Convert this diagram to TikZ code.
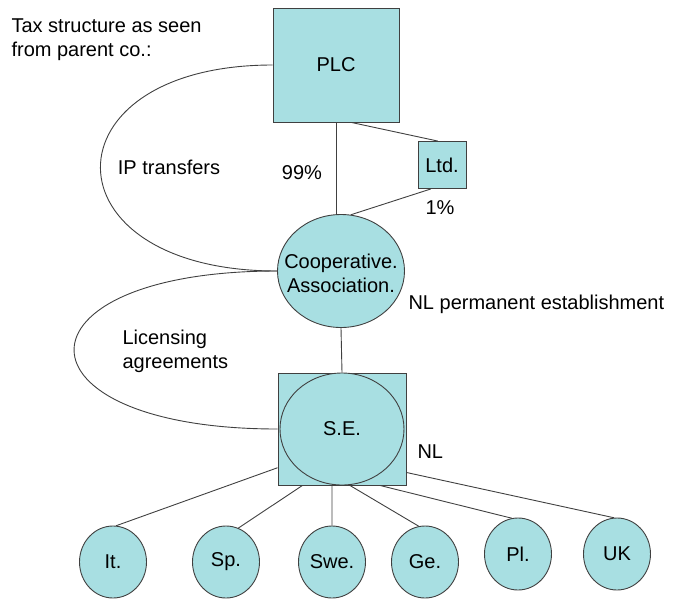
\documentclass[tikz,border=0pt]{standalone}
\usepackage{fontspec}
\setmainfont{Liberation Sans}
\usetikzlibrary{shapes.geometric}
\definecolor{boxfill}{RGB}{168,223,226}
\tikzset{
	entity/.style={draw=black!75, fill=boxfill, line width=0.9pt, inner sep=0pt},
	firm/.style={entity, rectangle},
	branch/.style={entity, ellipse, minimum width=67pt, minimum height=72pt},
	link/.style={draw=black!75, line width=0.9pt}
}

\begin{document}
\begin{tikzpicture}[x=1pt, y=-1pt, font=\fontsize{20}{24}\selectfont]
		\useasboundingbox (0,0) rectangle (678,598);
		\node [anchor=west, align=left] (title) at (8,40) {Tax structure as seen\\from parent co.:};
		\node [firm, minimum width=126pt, minimum height=114pt] (plc) at (336,65) {PLC};
		\node [firm, minimum width=48pt, minimum height=47pt] (ltd) at (442,165) {Ltd.};
		\node [entity, ellipse, minimum width=127pt, minimum height=113pt] (coop) at (341,271) {};
		\node [align=center] (cooptext) at (341,273) {Cooperative.\\Association.};
		\node [firm, minimum width=128pt, minimum height=112pt] (se) at (342,429) {};
		\node [entity, ellipse, minimum width=124pt, minimum height=112pt] (sehub) at (se) {S.E.};
		% branches
		\node [branch] (it) at (113,562) {It.};
		\node [branch] (sp) at (226,562) {Sp.};
		\node [branch] (swe) at (332,562) {Swe.};
		\node [branch] (ge) at (425,562) {Ge.};
		\node [branch] (pl) at (518,554) {Pl.};
		\node [branch] (uk) at (617,554) {UK};
		% ownership
		\draw [link] (plc.south) -- (plc.south |- coop.north);
		\draw [link] (plc.-75) -- (ltd.100);
		\draw [link] (ltd.-115) -- (coop.80);
		\draw [link] (coop.south) -- (se.north);
		\draw [link] (plc.west) .. controls +(-230,0) and +(-235,0) .. (coop.west);
		\draw [link] (coop.west) .. controls +(-271,0) and +(-271,0) .. (se.west);
		\draw [link] (se.211) -- (it.85);
		\draw [link] (se.235) -- (sp.70);
		\draw [link] (se.260) -- (swe.north);
		\draw [link] (se.278) -- (ge.100);
		\draw [link] (se.304) -- (pl.100);
		\draw [link] (se.326) -- (uk.95);
		% labels
		\node (ip) at (169,167) {IP transfers};
		\node (major) at (302,173) {99\%};
		\node (minor) at (440,208) {1\%};
		\node [anchor=west, align=left] (lic) at (119,351) {Licensing\\agreements};
		\node [anchor=west] (pe) at (405,304) {NL permanent establishment};
		\node [anchor=west] (nl) at (414,452) {NL};
	\end{tikzpicture}
\end{document}
